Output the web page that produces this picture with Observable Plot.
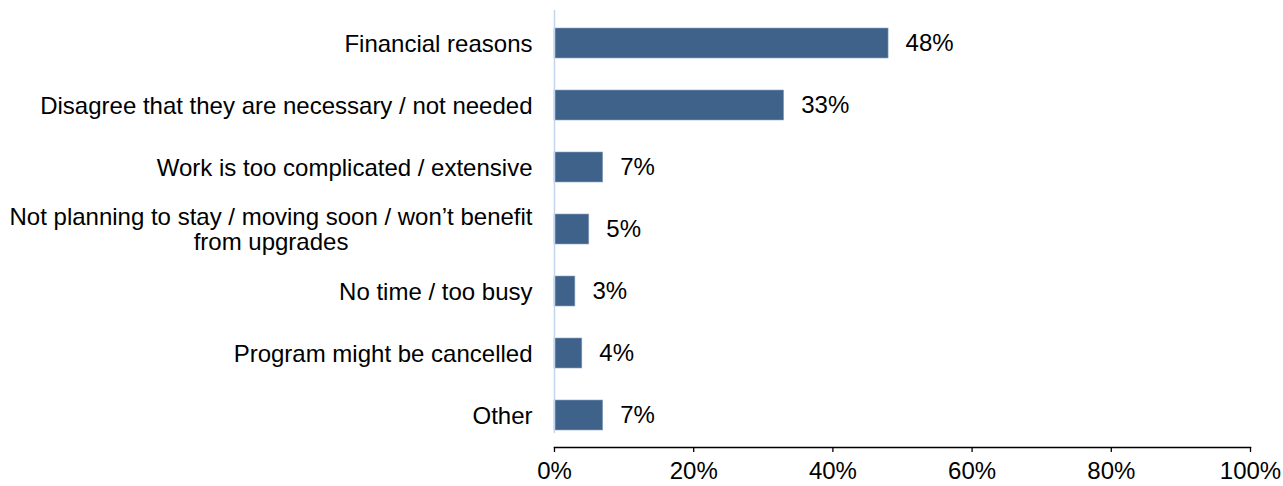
<!DOCTYPE html>
<html><head><meta charset="utf-8">
<script src="https://cdn.jsdelivr.net/npm/d3@7"></script>
<script src="https://cdn.jsdelivr.net/npm/@observablehq/plot@0.6"></script>
<style>body{margin:0;background:#fff;} svg{font-family:"Liberation Sans",Arial,sans-serif;}</style>
</head><body><div id="chart"></div>
<script>
const categories = [
  "Financial reasons",
  "Disagree that they are necessary / not needed",
  "Work is too complicated / extensive",
  "Not planning to stay / moving soon / won\u2019t benefit\nfrom upgrades",
  "No time / too busy",
  "Program might be cancelled",
  "Other"
];
const values = [48, 33, 7, 5, 3, 4, 7];
const xTicks = [0, 20, 40, 60, 80, 100];

const data = categories.map((c, i) => ({category: c, value: values[i]}));
const FS = 24;

const chart = Plot.plot({
  width: 1283,
  height: 486,
  marginLeft: 554,
  marginRight: 33,
  marginTop: 10,
  marginBottom: 39,
  style: {fontSize: FS + "px", fontFamily: "'Liberation Sans', Arial, sans-serif", color: "#000", background: "#fff"},
  x: {domain: [0, 100], ticks: xTicks, tickFormat: d => d + "%", label: null},
  y: {domain: categories, padding: 0, label: null},
  marks: [
    Plot.barX(data, {x: "value", y: "category", fill: "#3F628A", stroke: "#8FA6C2", strokeWidth: 0.6, insetTop: 16, insetBottom: 16}),
    Plot.ruleX([0], {stroke: "#C3D5EE", strokeWidth: 1.5, insetBottom: 14}),
    Plot.text(data, {x: "value", y: "category", text: d => d.value + "%", textAnchor: "start", dx: 17, fill: "#000", fontSize: FS}),
    Plot.axisY({tickSize: 0, tickPadding: 22, fontSize: FS, lineHeight: 1.05, fill: "#000"}),
    Plot.axisX({ticks: xTicks, tickFormat: d => d + "%", tickSize: 5, tickPadding: 9, fontSize: FS, stroke: "#000", fill: "#000", strokeWidth: 1.3}),
    Plot.frame({anchor: "bottom", stroke: "#000", strokeWidth: 1.5})
  ]
});
document.getElementById("chart").appendChild(chart);

// center multi-line y labels as a block
chart.querySelectorAll("text").forEach(t => {
  const spans = t.querySelectorAll("tspan");
  if (spans.length > 1) {
    const widths = Array.from(spans).map(s => s.getComputedTextLength());
    const maxW = Math.max(...widths);
    spans.forEach((s, i) => {
      const shift = (maxW - widths[i]) / 2;
      const x = parseFloat(s.getAttribute("x") || t.getAttribute("x") || 0);
      s.setAttribute("x", x - shift);
    });
  }
});
</script></body></html>
